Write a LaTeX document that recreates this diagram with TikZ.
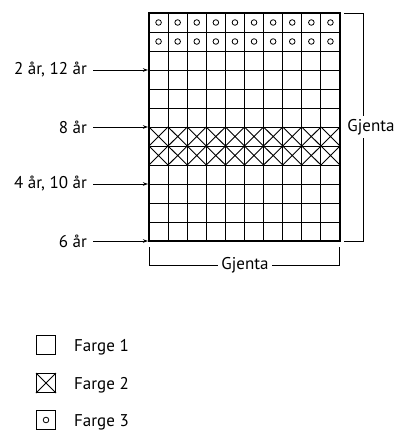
\documentclass[tikz,border=0pt]{standalone}
\usepackage{fontspec}
\setmainfont{PT Sans}
\usetikzlibrary{arrows.meta}
\begin{document}
\begin{tikzpicture}[x=1pt,y=-1pt,
  font=\fontsize{17}{20}\selectfont,
  gridline/.style={line width=0.9pt},
  border/.style={line width=2.4pt},
  bracket/.style={line width=0.9pt},
  arr/.style={line width=0.9pt,-{Stealth[length=5pt,width=3.5pt]}},
  lbl/.style={anchor=east,inner sep=0pt},
  legbox/.style={draw,line width=1pt,minimum width=19pt,minimum height=19pt,inner sep=0pt}]
\useasboundingbox (0,0) rectangle (398,432);
\def\cw{19.1}\def\ch{19}
% circles (Farge 3)
\foreach \j in {0,1}{\foreach \i in {0,...,9}{
  \draw[line width=0.8pt] ({149+\cw*(\i+0.5)},{13+\ch*(\j+0.5)}) circle (2.8pt);}}
% crosses (Farge 2)
\foreach \j in {6,7}{\foreach \i in {0,...,9}{
  \draw[gridline] ({149+\cw*\i},{13+\ch*\j}) -- ({149+\cw*(\i+1)},{13+\ch*(\j+1)})
                  ({149+\cw*(\i+1)},{13+\ch*\j}) -- ({149+\cw*\i},{13+\ch*(\j+1)});}}
% grid lines
\foreach \i in {1,...,9}{\draw[gridline] ({149+\cw*\i},13) -- ({149+\cw*\i},241);}
\foreach \j in {1,...,11}{\draw[gridline] (149,{13+\ch*\j}) -- (340,{13+\ch*\j});}
\draw[border] (149,13) rectangle (340,241);
% left labels and arrows
\node[lbl] (l1) at (87,70) {2 år, 12 år};
\node[lbl] (l2) at (87,127) {8 år};
\node[lbl] (l3) at (87,184) {4 år, 10 år};
\node[lbl] (l4) at (87,241) {6 år};
\foreach \n/\y in {1/70,2/127,3/184,4/241}{
  \coordinate (s\n) at (93,\y); \coordinate (e\n) at (148,\y);
  \draw[arr] (s\n) -- (e\n);}
% right bracket
\node (gr) at (371,127) {Gjenta};
\coordinate (rt1) at (344,13); \coordinate (rt2) at (363,13);
\coordinate (rb1) at (344,241); \coordinate (rb2) at (363,241);
\draw[bracket] (rt1) -- (rt2) -- (gr.north -| rt2);
\draw[bracket] (rb1) -- (rb2) -- (gr.south -| rb2);
% bottom bracket
\node (gb) at (245,265) {Gjenta};
\coordinate (bl1) at (149,247); \coordinate (bl2) at (149,265);
\coordinate (br1) at (339,247); \coordinate (br2) at (339,265);
\draw[bracket] (bl1) -- (bl2) -- (gb.west);
\draw[bracket] (br1) -- (br2) -- (gb.east);
% legend
\node[legbox] (k1) at (46,345) {};
\node[legbox] (k2) at (46,383) {};
\draw[gridline] (k2.north west) -- (k2.south east) (k2.north east) -- (k2.south west);
\node[legbox] (k3) at (46,420) {};
\draw[line width=0.8pt] (k3.center) circle (2.8pt);
\node[anchor=west,inner sep=0pt] (t1) at (74,347) {Farge 1};
\node[anchor=west,inner sep=0pt] (t2) at (74,385) {Farge 2};
\node[anchor=west,inner sep=0pt] (t3) at (74,422) {Farge 3};
\end{tikzpicture}
\end{document}
